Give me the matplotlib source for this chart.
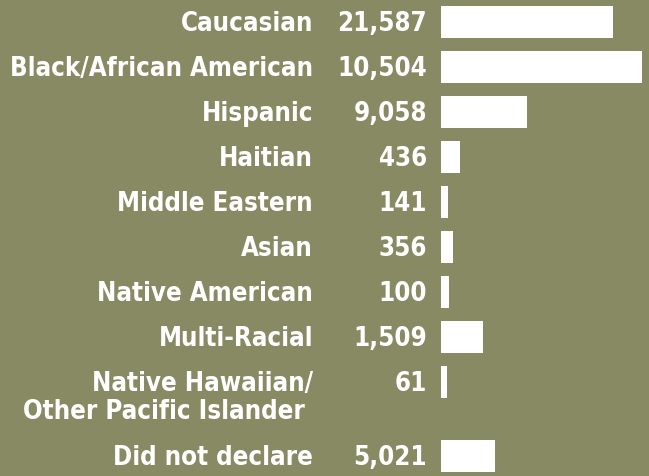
import matplotlib
matplotlib.use('Agg')
import matplotlib.pyplot as plt

# data
categories = ['Caucasian', 'Black/African American', 'Hispanic', 'Haitian',
              'Middle Eastern', 'Asian', 'Native American', 'Multi-Racial',
              'Native Hawaiian/\nOther Pacific Islander ', 'Did not declare']
counts = [21587, 10504, 9058, 436, 141, 356, 100, 1509, 61, 5021]
# bar lengths as drawn in the original (relative, longest = 100)
bar_lengths = [85.6, 100, 42.8, 9.5, 3.5, 6.0, 4.0, 21.0, 3.0, 27.0]

bg = '#878a63'
font = dict(family='DejaVu Sans', fontstretch='condensed', fontweight='bold',
            fontsize=18.5, color='white')

fig = plt.figure(figsize=(6.49, 4.76), dpi=100, facecolor=bg)
ax = fig.add_axes([0, 0, 1, 1])
ax.set_facecolor(bg)

# row positions, extra room after a two-line label
ypos = []
y = 0.0
for c in categories:
    ypos.append(y)
    y += 1.65 if '\n' in c else 1.0

ax.barh(ypos, bar_lengths, height=0.71, color='white', align='center')

for yy, c, n in zip(ypos, categories, counts):
    for j, line in enumerate(c.split('\n')):
        ax.annotate(line, xy=(0, yy), xytext=(-128, -9 - 28 * j),
                    textcoords='offset pixels', ha='right', va='baseline',
                    **font)
    ax.annotate('{:,}'.format(n), xy=(0, yy), xytext=(-14, -9),
                textcoords='offset pixels', ha='right', va='baseline', **font)

# 0 at x=441px, 100 at x=642px
k = 2.01
ax.set_xlim(-441 / k, (649 - 441) / k)
pitch = 45.0
ax.set_ylim((476 - 21.9) / pitch, -21.9 / pitch)
ax.axis('off')

plt.savefig('out.png', dpi=100, facecolor=bg)
